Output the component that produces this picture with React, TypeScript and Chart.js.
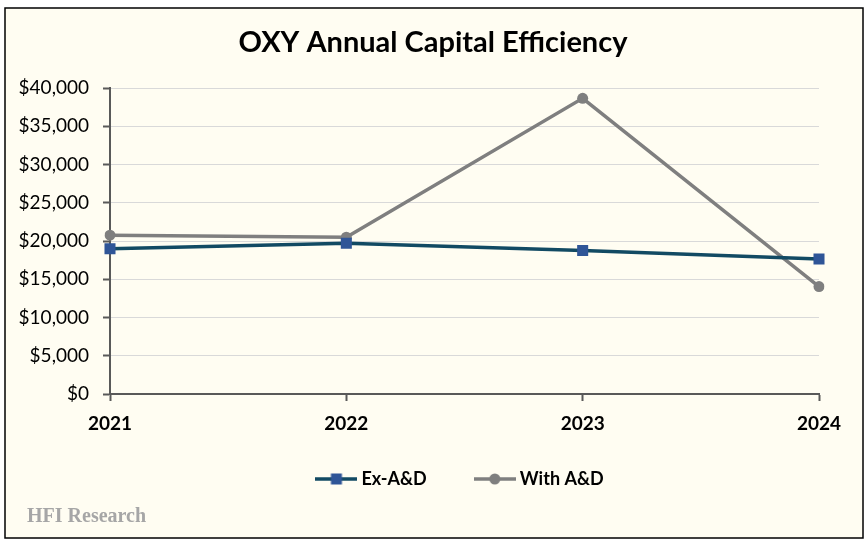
import React, { useEffect, useRef } from "react";
import Chart from "chart.js/auto";
import type { Plugin } from "chart.js";

const YEARS = ["2021", "2022", "2023", "2024"];
const EX_AD = [19000, 19700, 18750, 17650];
const WITH_AD = [20760, 20500, 38650, 14050];

const TEAL = "#124A63";
const BLUE = "#2F5597";
const GRAY = "#7F7F7F";
const AXIS = "#595959";
const GRID = "#D9D9D9";
const BG = "#FFFDF2";
const FONT = "Lato, 'Open Sans', sans-serif";

// small line+marker swatch for the legend
function swatch(line: string, marker: string, kind: "square" | "circle") {
  const c = document.createElement("canvas");
  c.width = 42;
  c.height = 12;
  const g = c.getContext("2d")!;
  g.strokeStyle = line;
  g.lineWidth = 3.5;
  g.beginPath();
  g.moveTo(0, 6);
  g.lineTo(42, 6);
  g.stroke();
  g.fillStyle = marker;
  if (kind === "square") g.fillRect(15.5, 0.5, 11, 11);
  else {
    g.beginPath();
    g.arc(21, 6, 5.5, 0, Math.PI * 2);
    g.fill();
  }
  return c;
}

export default function App() {
  const canvasRef = useRef<HTMLCanvasElement | null>(null);

  useEffect(() => {
    const ctx = canvasRef.current?.getContext("2d");
    if (!ctx) return;

    const frame: Plugin<"line"> = {
      id: "frame",
      beforeDraw(c) {
        const g = c.ctx;
        g.save();
        g.fillStyle = "#ffffff";
        g.fillRect(0, 0, c.width, c.height);
        g.fillStyle = BG;
        g.fillRect(5, 8, 858, 530);
        g.strokeStyle = "#000";
        g.lineWidth = 1.5;
        g.strokeRect(5, 8, 858, 530);
        g.restore();
      },
      afterDraw(c) {
        // watermark
        const g = c.ctx;
        g.save();
        g.fillStyle = "#A6A6A6";
        g.font = "bold 20px 'Liberation Serif', serif";
        g.textBaseline = "alphabetic";
        g.fillText("HFI Research", 27, 522);
        g.restore();
      },
    };

    // nudge title and legend to where they sit in the original
    const boxShift: Plugin<"line"> = {
      id: "boxShift",
      afterLayout(c) {
        const lg: any = (c as any).legend;
        if (lg) {
          lg.left += 50;
          lg.right += 50;
          lg.top -= 26;
          lg.bottom -= 26;
        }
        const tt: any = (c as any).titleBlock;
        if (tt) {
          tt.left += 21;
          tt.right += 21;
        }
      },
    };

    const chart = new Chart(ctx, {
      type: "line",
      data: {
        labels: YEARS,
        datasets: [
          {
            label: "Ex-A&D",
            data: EX_AD,
            borderColor: TEAL,
            backgroundColor: BLUE,
            borderWidth: 3.5,
            pointStyle: "rect",
            pointRadius: 7.8,
            pointBorderWidth: 0,
            pointBackgroundColor: BLUE,
            tension: 0,
          },
          {
            label: "With A&D",
            data: WITH_AD,
            borderColor: GRAY,
            backgroundColor: GRAY,
            borderWidth: 3.5,
            pointStyle: "circle",
            pointRadius: 5.5,
            pointBorderWidth: 0,
            pointBackgroundColor: GRAY,
            tension: 0,
          },
        ],
      },
      options: {
        animation: false,
        responsive: false,
        layout: { padding: { left: 5, right: 48, top: 0, bottom: 19 } },
        scales: {
          x: {
            offset: false,
            grid: {
              drawOnChartArea: false,
              drawTicks: true,
              tickLength: 7,
              tickColor: AXIS,
              tickWidth: 2,
            },
            border: { color: AXIS, width: 2 },
            ticks: {
              color: "#000",
              font: { family: FONT, size: 19, weight: "bold" },
              padding: 11,
              maxRotation: 0,
            },
            afterFit(s: any) {
              s.height = 50;
            },
          },
          y: {
            min: 0,
            max: 40000,
            ticks: {
              stepSize: 5000,
              color: "#000",
              padding: 14,
              font: { family: FONT, size: 19 },
              callback: (v: any) => "$" + Number(v).toLocaleString("en-US"),
            },
            grid: {
              color: GRID,
              tickColor: AXIS,
              tickLength: 7,
              tickWidth: 2,
            },
            border: { color: AXIS, width: 2 },
            afterFit(s: any) {
              s.width = 105;
            },
          },
        },
        plugins: {
          title: {
            display: true,
            text: "OXY Annual Capital Efficiency",
            color: "#000",
            font: { family: FONT, size: 29, weight: "bold" },
            padding: { top: 25, bottom: 28.2 },
          },
          legend: {
            position: "bottom",
            labels: {
              usePointStyle: true,
              pointStyleWidth: 32,
              padding: 52,
              color: "#000",
              font: { family: FONT, size: 18, weight: "bold" },
              generateLabels: (c: any) =>
                c.data.datasets.map((d: any, i: number) => ({
                  text: d.label,
                  datasetIndex: i,
                  pointStyle:
                    i === 0 ? swatch(TEAL, BLUE, "square") : swatch(GRAY, GRAY, "circle"),
                  fillStyle: "transparent",
                  strokeStyle: "transparent",
                  lineWidth: 0,
                  hidden: false,
                  fontColor: "#000",
                })),
            },
          },
          tooltip: { enabled: false },
        },
      },
      plugins: [frame, boxShift],
    });

    return () => {
      chart.destroy();
    };
  }, []);

  return (
    <div style={{ position: "fixed", left: 0, top: 0, width: 867, height: 543 }}>
      <canvas ref={canvasRef} width={867} height={543} style={{ width: 867, height: 543 }} />
    </div>
  );
}
